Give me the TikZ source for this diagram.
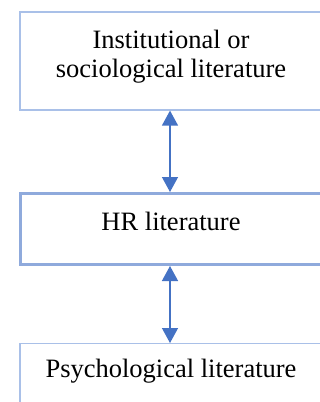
\documentclass[tikz,border=0pt]{standalone}
\usepackage{fontspec}
\setmainfont{Liberation Serif}
\usetikzlibrary{arrows.meta}
\definecolor{thinblue}{HTML}{A9C0E8}
\definecolor{midblue}{HTML}{8FAADC}
\definecolor{arrowblue}{HTML}{4472C4}
\tikzset{
  box/.style={draw=thinblue, line width=1.2pt, rectangle, inner sep=0pt},
  thickbox/.style={draw=midblue, line width=3pt, rectangle, inner sep=0pt},
  lbl/.style={inner sep=0pt, align=center, font=\fontsize{26.5}{29}\selectfont, text=black},
  link/.style={draw=arrowblue, line width=1.3pt, {Triangle[length=15pt,width=16pt]}-{Triangle[length=15pt,width=16pt]}}
}
\begin{document}
\begin{tikzpicture}[x=1pt,y=-1pt]
\useasboundingbox (0,0) rectangle (320,402);
\clip (0,0) rectangle (320,402);
\fill[white] (0,0) rectangle (320,402);
\node[box, minimum width=302pt, minimum height=98pt] (b1) at (171,61) {};
\node[thickbox, minimum width=302pt, minimum height=71pt] (b2) at (171,229) {};
\node[box, minimum width=302pt, minimum height=80pt, anchor=north] (b3) at (171,343) {};
\node[lbl, anchor=base] (t1) at (171,77) {Institutional or\\sociological literature};
\node[lbl, anchor=base] (t2) at (171,230) {HR literature};
\node[lbl, anchor=base] (t3) at (171,377) {Psychological literature};
\draw[link] ([xshift=-1pt]b1.south) -- ([xshift=-1pt]b2.north);
\draw[link] ([xshift=-1pt]b2.south) -- ([xshift=-1pt]b3.north);
\end{tikzpicture}
\end{document}
